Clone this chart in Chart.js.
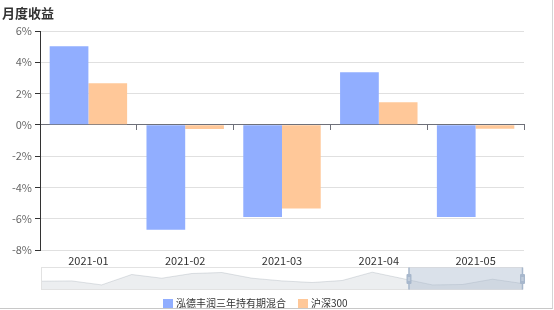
<!DOCTYPE html>
<html>
<head>
<meta charset="utf-8">
<script src="https://cdn.jsdelivr.net/npm/chart.js@4.4.0/dist/chart.umd.min.js"></script>
<style>
  html, body { margin: 0; padding: 0; background: #fff; }
  #wrap { position: relative; width: 554px; height: 310px; overflow: hidden; }
  #title { position: absolute; left: 2px; top: 3px; font: bold 13px "Noto Sans CJK SC", "Noto Sans", sans-serif; color: #333; }
  #frame { position: absolute; left: 0; top: 0; width: 552px; height: 308px; border-right: 1px solid #d4d4d4; border-bottom: 1px solid #c8c8c8; pointer-events: none; }
  canvas { position: absolute; left: 0; top: 0; }
</style>
</head>
<body>
<div id="wrap">
  <canvas id="c" width="554" height="310"></canvas>
  <div id="title">月度收益</div>
  <div id="frame"></div>
</div>
<script>
const categories = ['2021-01', '2021-02', '2021-03', '2021-04', '2021-05'];
const seriesNames = ['泓德丰润三年持有期混合', '沪深300'];
const fundReturns = [5.03, -6.70, -5.89, 3.36, -5.89];
const hs300Returns = [2.66, -0.27, -5.34, 1.44, -0.25];
const yMin = -8, yMax = 6, yStep = 2;
const seriesColors = ['#91aeff', '#ffc899'];
// slider data shadow (height above slider bottom, px out of sliderShadowMax)
const sliderShadow = [8.3, 8.6, 4.6, 15, 11.3, 16, 17, 11.3, 8.6, 7, 9, 17.3, 11, 4.6, 5, 10.3, 6];
const sliderShadowMax = 22;
const sliderRange = [76.4, 100];

const FONT = '"Noto Sans CJK SC", "Noto Sans", sans-serif';

const extras = {
  id: 'extras',
  afterDraw(chart) {
    const ctx = chart.ctx;
    const ca = chart.chartArea;
    // ---- slider ----
    const L = ca.left + 1.5, R = ca.right - 1.5;
    const T = ca.bottom + 17.5, H = 22, B = T + H;
    const W = R - L;
    ctx.save();
    ctx.beginPath();
    ctx.moveTo(L, B);
    sliderShadow.forEach((v, i) => {
      const x = L + W * i / (sliderShadow.length - 1);
      const y = B - H * v / sliderShadowMax;
      ctx.lineTo(x, y);
    });
    ctx.lineTo(R, B);
    ctx.closePath();
    ctx.fillStyle = 'rgba(47,69,84,0.09)';
    ctx.fill();
    ctx.beginPath();
    sliderShadow.forEach((v, i) => {
      const x = L + W * i / (sliderShadow.length - 1);
      const y = B - H * v / sliderShadowMax;
      if (i === 0) ctx.moveTo(x, y); else ctx.lineTo(x, y);
    });
    ctx.strokeStyle = 'rgba(47,69,84,0.15)';
    ctx.lineWidth = 1;
    ctx.stroke();
    ctx.strokeStyle = '#e2e2e2';
    ctx.strokeRect(L, T, W, H);
    const fx1 = L + W * sliderRange[0] / 100;
    const fx2 = L + W * sliderRange[1] / 100;
    ctx.fillStyle = 'rgba(167,183,204,0.42)';
    ctx.fillRect(fx1, T, fx2 - fx1, H);
    [fx1, fx2].forEach(hx => {
      ctx.fillStyle = '#a7b7cc';
      ctx.fillRect(hx - 0.75, T, 1.5, H);
      ctx.beginPath();
      ctx.roundRect(hx - 2.5, T + 6.5, 5, 10, 1);
      ctx.fill();
      ctx.strokeStyle = 'rgba(255,255,255,0.7)';
      ctx.lineWidth = 0.8;
      ctx.beginPath();
      ctx.moveTo(hx - 1.2, T + 10.5); ctx.lineTo(hx + 1.2, T + 10.5);
      ctx.moveTo(hx - 1.2, T + 12.5); ctx.lineTo(hx + 1.2, T + 12.5);
      ctx.stroke();
    });
    // ---- legend ----
    ctx.font = '10px ' + FONT;
    ctx.textBaseline = 'middle';
    ctx.textAlign = 'left';
    let x = 163;
    const ly = 303.5;
    chart.data.datasets.forEach((ds, i) => {
      ctx.fillStyle = ds.backgroundColor;
      ctx.fillRect(x, ly - 4.5, 10, 9);
      ctx.fillStyle = '#333';
      ctx.fillText(ds.label, x + 13, ly);
      x += 13 + ctx.measureText(ds.label).width + 12;
    });
    ctx.restore();
  }
};

new Chart(document.getElementById('c'), {
  type: 'bar',
  data: {
    labels: categories,
    datasets: [
      { label: seriesNames[0], data: fundReturns, backgroundColor: seriesColors[0] },
      { label: seriesNames[1], data: hs300Returns, backgroundColor: seriesColors[1] }
    ]
  },
  options: {
    responsive: false,
    animation: false,
    maintainAspectRatio: false,
    layout: { padding: { left: 0, top: 31, right: 30, bottom: 42 } },
    categoryPercentage: 0.8,
    barPercentage: 1.0,
    plugins: { legend: { display: false }, tooltip: { enabled: false } },
    scales: {
      x: {
        type: 'category',
        position: 'bottom',
        border: { display: false },
        grid: { display: true, drawOnChartArea: false, drawTicks: false },
        ticks: { color: '#333', font: { size: 11, family: FONT }, padding: 4, maxRotation: 0 },
        afterFit(s) { s.height = 18; }
      },
      x0: {
        type: 'category',
        position: { y: 0 },
        offset: true,
        border: { display: true, color: '#6e7079', width: 1 },
        grid: { offset: true, drawOnChartArea: false, drawTicks: true, tickLength: 5, color: '#6e7079' },
        ticks: { display: false }
      },
      y: {
        min: yMin, max: yMax,
        border: { display: true, color: '#333', width: 1 },
        grid: { color: '#e0e0e0', tickColor: '#333', tickLength: 5 },
        ticks: {
          stepSize: yStep,
          color: '#666',
          padding: 3,
          font: { size: 11, family: FONT },
          callback: v => v + '%'
        },
        afterFit(s) { s.width = 40; }
      }
    }
  },
  plugins: [extras]
});
</script>
</body>
</html>
